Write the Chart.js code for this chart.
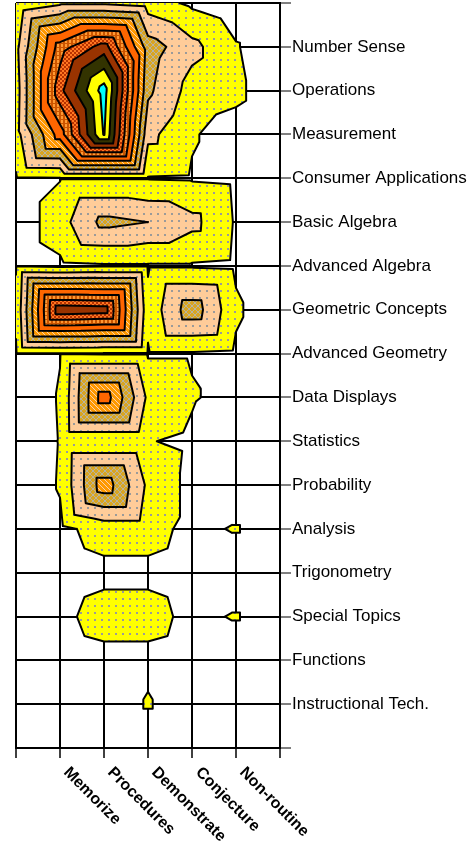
<!DOCTYPE html>
<html>
<head>
<meta charset="utf-8">
<script src="https://cdn.jsdelivr.net/npm/chart.js@4.4.1/dist/chart.umd.min.js"></script>
<style>
  html, body { margin: 0; padding: 0; background: #fff; }
  #wrap { width: 470px; height: 854px; position: relative; }
</style>
</head>
<body>
<div id="wrap"><canvas id="map"></canvas></div>
<script>
// topics down the right side, cognitive demand along the bottom
const topics = [
  'Number Sense', 'Operations', 'Measurement', 'Consumer Applications',
  'Basic Algebra', 'Advanced Algebra', 'Geometric Concepts', 'Advanced Geometry',
  'Data Displays', 'Statistics', 'Probability', 'Analysis',
  'Trigonometry', 'Special Topics', 'Functions', 'Instructional Tech.'
];
const demands = ['Memorize', 'Procedures', 'Demonstrate', 'Conjecture', 'Non-routine'];

// surface values per column, top edge row, 16 topics, bottom edge row
const leftEdge    = [1.1, 1.7, 1.5, 1.6, 0.9, 0.3, 0.95, 1.2, 0.9, 0, 0.2, 0, 0, 0, 0, 0, 0, 0];
const memorize    = [1.8, 6.5, 7.7, 5.5, 0.95, 1.6, 0.8, 8.8, 0.95, 1.1, 1.05, 1.1, 0.75, 0.5, 0.75, 0.5, 0, 0];
const procedures  = [1.8, 8.5, 11.5, 11.1, 0.95, 3.3, 0.9, 8.6, 0.9, 5.6, 1.05, 4.6, 1.4, 0.75, 1.4, 0.7, 0, 0];
const demonstrate = [1.5, 3.5, 3.2, 2.3, 0.95, 3.0, 0.9, 1.3, 0.9, 1.8, 1.05, 1.8, 1.4, 0.75, 1.4, 0.7, 1.12, 0];
const conjecture  = [0.8, 2.3, 1.6, 1.1, 0.9, 2.3, 0.9, 3.6, 0.9, 1.1, 0.8, 0.7, 0.7, 0.5, 0.7, 0.5, 0, 0];
const nonRoutine  = [0.3, 1.1, 1.3, 0.5, 0.8, 0.9, 0.8, 1.2, 0.8, 0.6, 0, 0, 1.1, 0, 1.1, 0, 0, 0];
const rightEdge   = [0, 0, 0, 0, 0, 0, 0, 0, 0, 0, 0, 0, 0, 0, 0, 0, 0, 0];

const columns = [leftEdge, memorize, procedures, demonstrate, conjecture, nonRoutine, rightEdge];
const levels = [1, 2, 3, 4, 5, 6, 7, 8, 9, 10, 11];

const points = [];
columns.forEach((col, c) => col.forEach((v, r) => points.push({ x: c, y: r, v: v })));

function makePattern(ctx, size, base, draw) {
  const c = document.createElement('canvas');
  c.width = c.height = size;
  const g = c.getContext('2d');
  g.fillStyle = base;
  g.fillRect(0, 0, size, size);
  if (draw) draw(g, size);
  return ctx.createPattern(c, 'repeat');
}

function bandStyles(ctx) {
  const dots = (g) => { g.fillStyle = '#9a9a9a'; g.fillRect(3, 3, 2, 2); };
  return [
    makePattern(ctx, 7, '#ffff00', dots),
    makePattern(ctx, 7, '#ffcc99', dots),
    makePattern(ctx, 6, '#d9a521', (g, s) => {
      g.strokeStyle = '#b8b4a0'; g.lineWidth = 1;
      g.beginPath(); g.moveTo(0, 0); g.lineTo(s, s); g.moveTo(s, 0); g.lineTo(0, s); g.stroke();
    }),
    makePattern(ctx, 5, '#ff9900', (g, s) => {
      g.strokeStyle = '#f8d2b0'; g.lineWidth = 1;
      g.beginPath(); g.moveTo(0, 0); g.lineTo(s, s); g.stroke();
    }),
    '#ff6600',
    makePattern(ctx, 4, '#cc5500', (g) => { g.fillStyle = '#ff9933'; g.fillRect(1, 0, 2, 3); }),
    makePattern(ctx, 4, '#b83200', (g) => { g.fillStyle = '#ff7722'; g.fillRect(0, 0, 2, 2); g.fillRect(2, 2, 2, 2); }),
    '#993300',
    '#333300',
    '#ffff00',
    '#00ffff'
  ];
}

// part of a triangle where value >= k
function clipTri(p, v, k) {
  const out = [];
  for (let i = 0; i < 3; i++) {
    const j = (i + 1) % 3;
    const a = v[i] - k, b = v[j] - k;
    if (a >= 0) out.push(p[i]);
    if ((a >= 0) !== (b >= 0)) {
      const t = a / (a - b);
      out.push([p[i][0] + t * (p[j][0] - p[i][0]), p[i][1] + t * (p[j][1] - p[i][1])]);
    }
  }
  return out;
}

function isoSeg(p, v, k) {
  const out = [];
  for (let i = 0; i < 3; i++) {
    const j = (i + 1) % 3;
    const a = v[i] - k, b = v[j] - k;
    if ((a >= 0) !== (b >= 0)) {
      const t = a / (a - b);
      out.push([p[i][0] + t * (p[j][0] - p[i][0]), p[i][1] + t * (p[j][1] - p[i][1])]);
    }
  }
  return out;
}

const contourPlugin = {
  id: 'contour',
  beforeDatasetsDraw(chart) {
    const ctx = chart.ctx;
    const xs = chart.scales.x, ys = chart.scales.y;
    const data = chart.data.datasets[0].data;
    const nx = columns.length, ny = columns[0].length;
    const grid = [];
    data.forEach(d => {
      grid[d.y] = grid[d.y] || [];
      grid[d.y][d.x] = d.v;
    });

    // each cell is split into 4 triangles round its centre; the centre
    // takes the mid-range of the corners, which keeps the rings squarish
    const tris = [];
    for (let r = 0; r < ny - 1; r++) {
      for (let c = 0; c < nx - 1; c++) {
        const p00 = [xs.getPixelForValue(c), ys.getPixelForValue(r)];
        const p10 = [xs.getPixelForValue(c + 1), ys.getPixelForValue(r)];
        const p11 = [xs.getPixelForValue(c + 1), ys.getPixelForValue(r + 1)];
        const p01 = [xs.getPixelForValue(c), ys.getPixelForValue(r + 1)];
        const pc = [(p00[0] + p11[0]) / 2, (p00[1] + p11[1]) / 2];
        const v00 = grid[r][c], v10 = grid[r][c + 1], v11 = grid[r + 1][c + 1], v01 = grid[r + 1][c];
        const vc = (Math.max(v00, v10, v11, v01) + Math.min(v00, v10, v11, v01)) / 2;
        tris.push([[p00, p10, pc], [v00, v10, vc]]);
        tris.push([[p10, p11, pc], [v10, v11, vc]]);
        tris.push([[p11, p01, pc], [v11, v01, vc]]);
        tris.push([[p01, p00, pc], [v01, v00, vc]]);
      }
    }

    const styles = bandStyles(ctx);
    ctx.save();
    levels.forEach((k, i) => {
      ctx.beginPath();
      tris.forEach(([p, v]) => {
        const poly = clipTri(p, v, k);
        if (poly.length < 3) return;
        ctx.moveTo(poly[0][0], poly[0][1]);
        for (let n = 1; n < poly.length; n++) ctx.lineTo(poly[n][0], poly[n][1]);
        ctx.closePath();
      });
      ctx.fillStyle = styles[i];
      ctx.fill();
    });

    ctx.strokeStyle = '#000';
    ctx.lineWidth = 2;
    ctx.lineJoin = 'round';
    ctx.lineCap = 'round';
    ctx.beginPath();
    levels.forEach(k => {
      tris.forEach(([p, v]) => {
        const s = isoSeg(p, v, k);
        if (s.length === 2) {
          ctx.moveTo(s[0][0], s[0][1]);
          ctx.lineTo(s[1][0], s[1][1]);
        }
      });
    });
    ctx.stroke();
    ctx.restore();
  },
  afterDraw(chart) {
    // slanted demand labels under the grid
    const ctx = chart.ctx;
    const xs = chart.scales.x;
    ctx.save();
    ctx.fillStyle = '#000';
    ctx.font = 'bold 16px "Liberation Sans", Arial, sans-serif';
    ctx.textAlign = 'left';
    ctx.textBaseline = 'middle';
    demands.forEach((label, i) => {
      ctx.save();
      ctx.translate(xs.getPixelForValue(i + 1) + 6, xs.top + 22);
      ctx.rotate(Math.PI / 4);
      ctx.fillText(label, 0, 0);
      ctx.restore();
    });
    ctx.restore();
  }
};

new Chart(document.getElementById('map'), {
  type: 'scatter',
  data: {
    datasets: [{ data: points, pointRadius: 0, showLine: false }]
  },
  options: {
    responsive: true,
    maintainAspectRatio: false,
    animation: false,
    layout: { padding: { left: 16, top: 3, right: 0, bottom: 0 } },
    plugins: {
      legend: { display: false },
      tooltip: { enabled: false }
    },
    scales: {
      x: {
        type: 'linear',
        position: 'bottom',
        min: 0,
        max: columns.length - 1,
        z: 1,
        ticks: { stepSize: 1, autoSkip: false, callback: () => '' },
        grid: { color: '#000', lineWidth: 2, tickLength: 10, tickWidth: 1.5, tickColor: '#000' },
        border: { color: '#000', width: 2 },
        afterFit: (s) => { s.height = 106; s.paddingLeft = 0; s.paddingRight = 0; }
      },
      y: {
        type: 'linear',
        position: 'right',
        reverse: true,
        min: 0,
        max: topics.length + 1,
        z: 1,
        ticks: {
          stepSize: 1,
          autoSkip: false,
          padding: 1,
          color: '#000',
          font: { family: '"Liberation Sans", Arial, sans-serif', size: 17 },
          callback: (v) => topics[v - 1] || ''
        },
        grid: { color: '#000', lineWidth: 2, tickLength: 11, tickWidth: 1, tickColor: '#000' },
        border: { color: '#000', width: 2 },
        afterFit: (s) => { s.width = 190; s.paddingTop = 0; s.paddingBottom = 0; }
      }
    }
  },
  plugins: [contourPlugin]
});
</script>
</body>
</html>
